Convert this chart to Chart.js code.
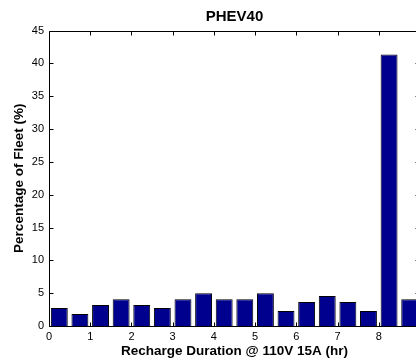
<!DOCTYPE html>
<html>
<head>
<meta charset="utf-8">
<script src="https://cdn.jsdelivr.net/npm/chart.js@4/dist/chart.umd.min.js"></script>
<style>
  html, body { margin: 0; padding: 0; background: #fff; overflow: hidden; width: 416px; height: 360px; }
  canvas { display: block; }
</style>
</head>
<body>
<canvas id="c" width="440" height="360"></canvas>
<script>
// Data
const chartTitle = 'PHEV40';
const xAxisTitle = 'Recharge Duration @ 110V 15A (hr)';
const yAxisTitle = 'Percentage of Fleet (%)';
const binCenters = [0.25, 0.75, 1.25, 1.75, 2.25, 2.75, 3.25, 3.75, 4.25, 4.75, 5.25, 5.75, 6.25, 6.75, 7.25, 7.75, 8.25, 8.75];
const fleetPct   = [2.73, 1.82, 3.18, 4.09, 3.18, 2.73, 4.09, 5.0, 4.09, 4.09, 5.0, 2.27, 3.64, 4.55, 3.64, 2.27, 41.36, 4.09];
const xTicks = [0, 1, 2, 3, 4, 5, 6, 7, 8, 9];
const yTicks = [0, 5, 10, 15, 20, 25, 30, 35, 40, 45];

const FONT = "'Liberation Sans', Arial, Helvetica, sans-serif";

const axesDecor = {
  id: 'axesDecor',
  afterDatasetsDraw(chart) {
    const { ctx, chartArea: { left, right, top, bottom }, scales: { x, y } } = chart;
    ctx.save();
    ctx.strokeStyle = '#000';
    ctx.lineWidth = 1;
    ctx.beginPath();
    const L = Math.round(left) + 0.5, R = Math.round(right) - 0.5;
    const T = Math.round(top) + 0.5, B = Math.round(bottom) + 0.5;
    ctx.moveTo(L, T); ctx.lineTo(R, T); ctx.lineTo(R, B); ctx.lineTo(L, B); ctx.closePath();
    xTicks.forEach(v => {
      const px = Math.round(x.getPixelForValue(v)) + 0.5;
      ctx.moveTo(px, B); ctx.lineTo(px, B - 4);
      ctx.moveTo(px, T); ctx.lineTo(px, T + 4);
    });
    yTicks.forEach(v => {
      const py = Math.round(y.getPixelForValue(v)) + 0.5;
      ctx.moveTo(L, py); ctx.lineTo(L + 4, py);
      ctx.moveTo(R, py); ctx.lineTo(R - 4, py);
    });
    ctx.stroke();
    ctx.restore();
  }
};

new Chart(document.getElementById('c'), {
  type: 'bar',
  data: {
    datasets: [{
      data: binCenters.map((c, i) => ({ x: c, y: fleetPct[i] })),
      backgroundColor: '#00008f',
      borderColor: '#000',
      borderWidth: 1,
      barPercentage: 0.82,
      categoryPercentage: 1.0
    }]
  },
  options: {
    responsive: false,
    devicePixelRatio: 1,
    animation: false,
    layout: { padding: { left: 0, right: 20, top: 0, bottom: 0 } },
    plugins: {
      legend: { display: false },
      tooltip: { enabled: false },
      title: {
        display: true,
        text: chartTitle,
        fullSize: false,
        color: '#000',
        font: { family: FONT, size: 15, weight: 'bold', lineHeight: 1.2 },
        padding: { top: 8, bottom: 4.5 }
      }
    },
    scales: {
      x: {
        type: 'linear',
        min: 0,
        max: 9,
        offset: false,
        afterFit: s => { s.height = 34; },
        grid: { display: false, drawTicks: false },
        border: { display: false },
        ticks: {
          stepSize: 1,
          padding: 4,
          color: '#000',
          maxRotation: 0,
          font: { family: FONT, size: 11 },
          callback: v => (xTicks.includes(v) && v < 9) ? String(v) : null
        },
        title: {
          display: true,
          text: xAxisTitle,
          color: '#000',
          font: { family: FONT, size: 13.5, weight: 'bold', lineHeight: 1.2 },
          padding: { top: 0, bottom: 1 }
        }
      },
      y: {
        min: 0,
        max: 45,
        afterFit: s => { s.width = 49; },
        grid: { display: false, drawTicks: false },
        border: { display: false },
        ticks: {
          stepSize: 5,
          padding: 5,
          color: '#000',
          font: { family: FONT, size: 11 }
        },
        title: {
          display: true,
          text: yAxisTitle,
          color: '#000',
          font: { family: FONT, size: 13.5, weight: 'bold', lineHeight: 1.2 },
          padding: { top: 11, bottom: 0 }
        }
      }
    }
  },
  plugins: [axesDecor]
});
</script>
</body>
</html>
